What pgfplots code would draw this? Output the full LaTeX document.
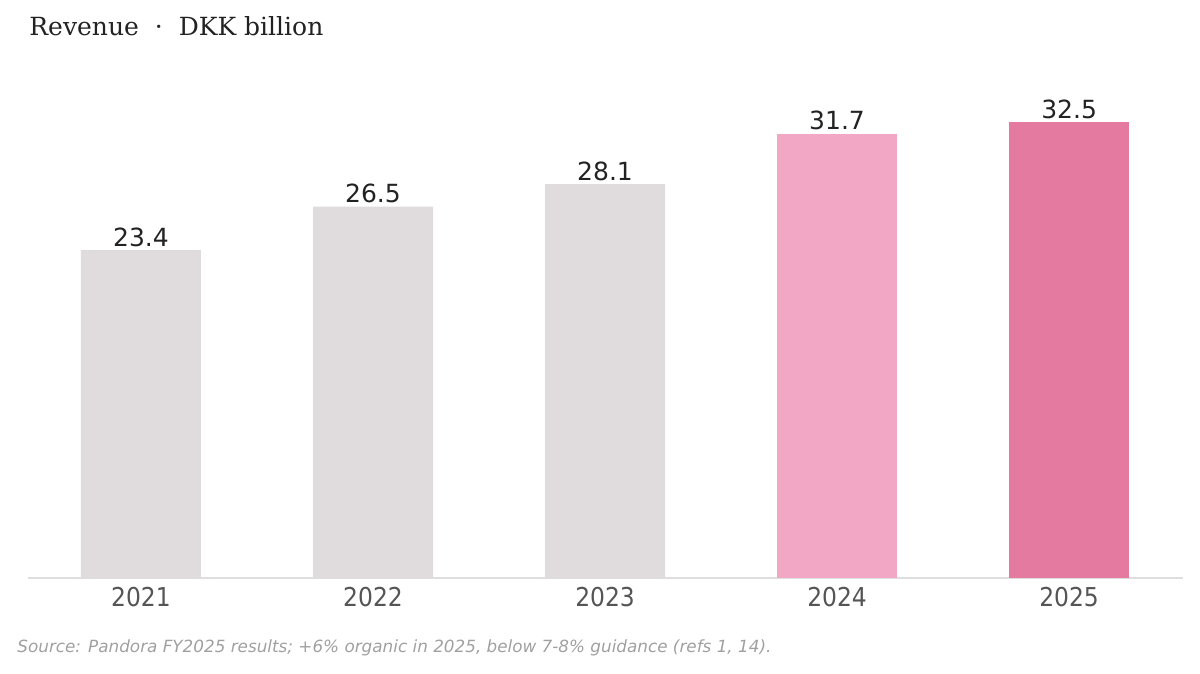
\documentclass[border=0pt]{standalone}
\usepackage{fontspec}
\usepackage{pgfplots}
\pgfplotsset{compat=1.18}
\setmainfont{DejaVu Sans}
\newfontfamily\titlefont{DejaVu Serif}
\newfontfamily\valfont{DejaVu Sans}
\newfontfamily\condfont[FakeStretch=0.9]{DejaVu Sans}
\definecolor{greybar}{RGB}{224,220,222}
\definecolor{pinklight}{RGB}{242,168,197}
\definecolor{pinkdark}{RGB}{228,122,160}
\definecolor{axisgrey}{RGB}{222,222,222}
\definecolor{ticktext}{RGB}{85,85,85}
\definecolor{valtext}{RGB}{34,34,34}
\definecolor{srctext}{RGB}{160,160,160}
\begin{document}
\begin{tikzpicture}
\path[use as bounding box] (0,0) rectangle (600pt,337pt);
\begin{axis}[
  at={(14pt,48pt)}, anchor=south west,
  scale only axis, width=577.5pt, height=252.3pt,
  xmin=-0.487, xmax=4.491, ymin=0, ymax=36,
  axis x line*=bottom, axis y line=none,
  x axis line style={draw=axisgrey, line width=1pt},
  xtick={0,1,2,3,4},
  xticklabels={2021,2022,2023,2024,2025},
  major tick length=0pt,
  xticklabel style={font=\condfont\fontsize{13}{15}\selectfont, text=ticktext, yshift=-1.2pt},
  ybar, bar width=60pt, bar shift=0pt,
  nodes near coords,
  every node near coord/.append style={font=\valfont\fontsize{12.5}{14}\selectfont, text=valtext, inner sep=1.5pt},
  nodes near coords style={/pgf/number format/.cd, fixed, fixed zerofill, precision=1, assume math mode=true},
  clip=false,
]
\addplot[fill=greybar, draw=none] coordinates {(0,23.4) (1,26.5) (2,28.1)};
\addplot[fill=pinklight, draw=none] coordinates {(3,31.7)};
\addplot[fill=pinkdark, draw=none] coordinates {(4,32.5)};
\end{axis}
\node[anchor=base west, inner sep=0pt, text=valtext, font=\titlefont\fontsize{12.5}{15}\selectfont] at (14.5pt,319pt) {Revenue\hspace{8pt}·\hspace{8pt}DKK billion};
\node[anchor=base west, inner sep=0pt, text=srctext, font=\valfont\itshape\fontsize{8.4}{10}\selectfont] at (8.5pt,10.5pt) {Source: Pandora FY2025 results; +6\% organic in 2025, below 7-8\% guidance (refs 1, 14).};
\end{tikzpicture}
\end{document}
